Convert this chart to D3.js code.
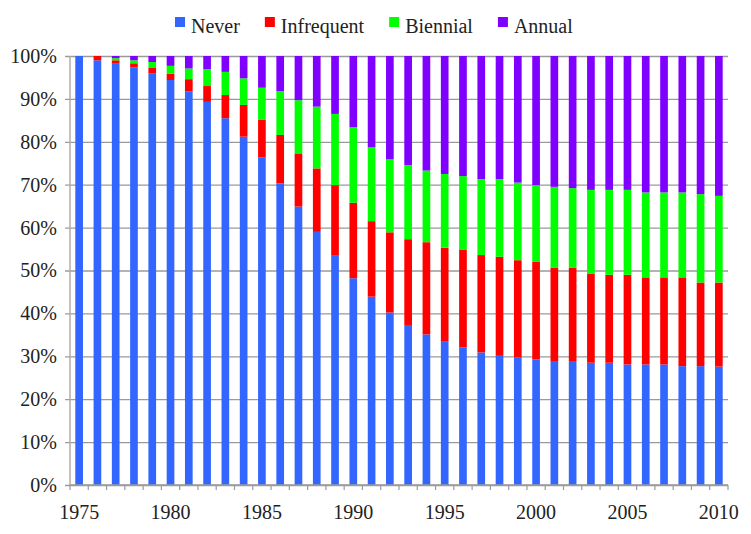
<!DOCTYPE html>
<html>
<head>
<meta charset="utf-8">
<script src="https://cdn.jsdelivr.net/npm/d3@7"></script>
<style>
  body { margin: 0; background: #fff; }
  svg { display: block; }
  svg text { font-family: "Liberation Serif", "Times New Roman", serif; }
</style>
</head>
<body>
<div id="chart"></div>
<script>
const width = 751;
const height = 534;

const years = d3.range(1975, 2011);
const seriesNames = ["Never", "Infrequent", "Biennial", "Annual"];
const colors = ["#3366ff", "#ff0000", "#00ff00", "#8000ff"];

const never =      [100, 99.0, 98.2, 97.3, 96.0, 94.4, 91.7, 89.3, 85.5, 81.2, 76.4, 70.3, 64.9, 59.0, 53.6, 48.2, 43.9, 40.2, 37.3, 35.1, 33.4, 32.1, 30.9, 30.1, 29.7, 29.3, 28.9, 28.9, 28.5, 28.5, 28.1, 28.1, 28.1, 27.7, 27.7, 27.6];
const infrequent = [0, 1.0, 0.8, 1.0, 1.2, 1.5, 2.9, 3.7, 5.4, 7.4, 8.7, 11.3, 12.4, 14.8, 16.3, 17.6, 17.6, 18.7, 20.0, 21.5, 21.9, 22.8, 22.7, 23.1, 22.7, 22.7, 21.8, 21.8, 20.8, 20.5, 20.9, 20.3, 20.3, 20.7, 19.5, 19.6];
const biennial =   [0, 0, 0.5, 0.7, 1.4, 1.8, 2.5, 3.9, 5.4, 6.2, 7.5, 10.2, 12.4, 14.4, 16.6, 17.6, 17.2, 17.0, 17.3, 16.7, 17.2, 17.1, 17.7, 18.1, 18.1, 17.9, 18.8, 18.5, 19.5, 19.8, 19.8, 19.8, 19.8, 19.8, 20.6, 20.2];
const annual =     [0, 0, 0.5, 1.0, 1.4, 2.3, 2.9, 3.1, 3.7, 5.2, 7.4, 8.2, 10.3, 11.8, 13.5, 16.6, 21.3, 24.1, 25.4, 26.7, 27.5, 28.0, 28.7, 28.7, 29.5, 30.1, 30.5, 30.8, 31.2, 31.2, 31.2, 31.8, 31.8, 31.8, 32.2, 32.6];
const yTicks = d3.range(0, 1.01, 0.1);
const xLabelYears = [1975, 1980, 1985, 1990, 1995, 2000, 2005, 2010];

const table = years.map((y, i) => ({
  year: y,
  Never: never[i],
  Infrequent: infrequent[i],
  Biennial: biennial[i],
  Annual: annual[i]
}));

const margin = {top: 56, right: 23, bottom: 49, left: 70};

const x = d3.scaleBand()
  .domain(years)
  .range([margin.left, width - margin.right])
  .paddingInner(0.58)
  .paddingOuter(0.29);

const y = d3.scaleLinear()
  .domain([0, 1])
  .range([height - margin.bottom, margin.top]);

const color = d3.scaleOrdinal().domain(seriesNames).range(colors);

const stacked = d3.stack()
  .keys(seriesNames)
  .offset(d3.stackOffsetExpand)(table);

const svg = d3.select("#chart").append("svg")
  .attr("width", width)
  .attr("height", height)
  .attr("viewBox", [0, 0, width, height]);

// gridlines + y labels
svg.append("g")
  .attr("transform", `translate(${margin.left},0)`)
  .call(d3.axisLeft(y).tickValues(yTicks).tickFormat(d3.format(".0%"))
    .tickSize(-(width - margin.left - margin.right)).tickSizeOuter(0).tickPadding(13))
  .call(g => g.select(".domain").remove())
  .call(g => g.selectAll(".tick line").attr("stroke", "#9a9a9a").attr("stroke-width", 1.3).attr("x1", -5))
  .call(g => g.selectAll(".tick text")
    .style("font-family", "'Liberation Serif', 'Times New Roman', serif")
    .style("font-size", "20px")
    .attr("fill", "#222"));

// bars
svg.append("g")
  .selectAll("g")
  .data(stacked)
  .join("g")
  .attr("fill", d => color(d.key))
  .selectAll("rect")
  .data(d => d)
  .join("rect")
  .attr("x", d => x(d.data.year))
  .attr("y", d => y(d[1]))
  .attr("height", d => y(d[0]) - y(d[1]))
  .attr("width", x.bandwidth());

// y axis line
svg.append("line")
  .attr("x1", margin.left).attr("x2", margin.left)
  .attr("y1", y(1)).attr("y2", y(0))
  .attr("stroke", "#b5ada5").attr("stroke-width", 1.5);

// x axis with ticks between bars
const step = x.step();
const xAxis = svg.append("g")
  .attr("transform", `translate(0,${y(0)})`);
xAxis.append("line")
  .attr("x1", margin.left).attr("x2", width - margin.right)
  .attr("stroke", "#9a9a9a").attr("stroke-width", 1.5);
xAxis.selectAll(".tk")
  .data(years.concat([years[years.length - 1] + 1]))
  .join("line")
  .attr("class", "tk")
  .attr("x1", (d, i) => margin.left + i * step)
  .attr("x2", (d, i) => margin.left + i * step)
  .attr("y1", 0).attr("y2", 5)
  .attr("stroke", "#9a9a9a").attr("stroke-width", 1.2);
xAxis.selectAll(".lbl")
  .data(xLabelYears)
  .join("text")
  .attr("class", "lbl")
  .attr("x", d => x(d) + x.bandwidth() / 2)
  .attr("y", 34)
  .attr("text-anchor", "middle")
  .attr("font-size", 20)
  .attr("fill", "#222")
  .text(d => d);

// legend
const legend = svg.append("g").attr("transform", "translate(175,0)");
let lx = 0;
seriesNames.forEach((name, i) => {
  const item = legend.append("g").attr("transform", `translate(${lx},0)`);
  item.append("rect")
    .attr("x", 0).attr("y", 17)
    .attr("width", 10).attr("height", 10)
    .attr("fill", colors[i]);
  const t = item.append("text")
    .attr("x", 16).attr("y", 33)
    .attr("font-size", 20)
    .attr("fill", "#222")
    .text(name);
  lx += 16 + t.node().getComputedTextLength() + 25;
});
</script>
</body>
</html>
